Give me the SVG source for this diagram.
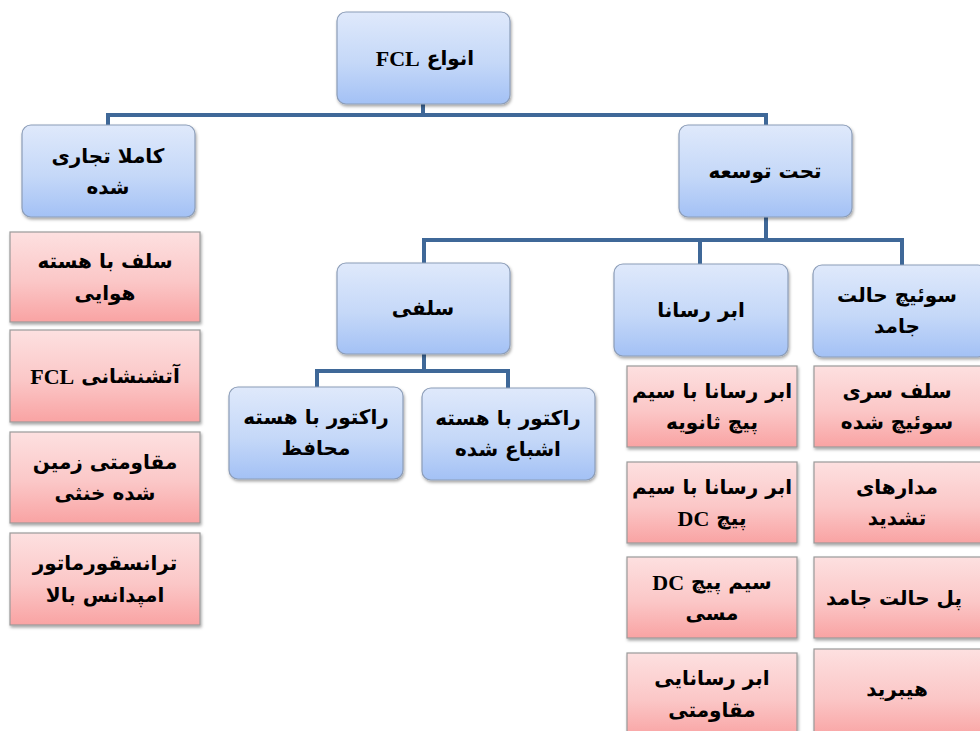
<svg xmlns="http://www.w3.org/2000/svg" width="980" height="731" viewBox="0 0 980 731">
<defs>
<linearGradient id="gb" x1="0" y1="0" x2="0" y2="1">
<stop offset="0" stop-color="#dfe9fb"/>
<stop offset="0.55" stop-color="#c5d8f8"/>
<stop offset="1" stop-color="#a3c1f5"/>
</linearGradient>
<linearGradient id="gr" x1="0" y1="0" x2="0" y2="1">
<stop offset="0" stop-color="#fde0e0"/>
<stop offset="0.55" stop-color="#fbc7c7"/>
<stop offset="1" stop-color="#f9a3a3"/>
</linearGradient>
<filter id="sh" x="-10%" y="-10%" width="125%" height="130%">
<feDropShadow dx="1" dy="2" stdDeviation="1.5" flood-color="#000" flood-opacity="0.35"/>
</filter>
</defs>
<style>
.b{fill:url(#gb);stroke:#8c9db8;stroke-width:1.2;filter:url(#sh)}
.r{fill:url(#gr);stroke:#9a9a9a;stroke-width:1.2;filter:url(#sh)}
.c{fill:none;stroke:#3f6898;stroke-width:4}
text{font-family:"Liberation Serif","DejaVu Sans",sans-serif;font-weight:bold;font-size:20px;fill:#000;text-anchor:middle;dominant-baseline:central;direction:rtl;unicode-bidi:embed;word-spacing:2px}
.lat{font-size:22px}
</style>
<rect width="980" height="731" fill="#fff"/>
<g id="connectors">
<path class="c" d="M423,104 V115 M108,125 V115 H766 V125"/>
<path class="c" d="M766,217 V240 M424,263 V240 H902 V265 M700,240 V264"/>
<path class="c" d="M424,354 V371 M317,388 V371 H508 V388"/>
</g>
<g id="root"><rect class="b" x="337" y="12" width="173" height="92" rx="9"/><text x="425" y="58">انواع  <tspan class="lat">FCL</tspan></text></g>
<g id="commercial"><rect class="b" x="22" y="125" width="173" height="92" rx="9"/><text x="108" y="156">کاملا تجاری</text><text x="108" y="187">شده</text></g>
<g id="developing"><rect class="b" x="679" y="125" width="173" height="92" rx="9"/><text x="765" y="171">تحت توسعه</text></g>
<g id="salfi"><rect class="b" x="337" y="263" width="173" height="91" rx="9"/><text x="423" y="308">سلفی</text></g>
<g id="abr"><rect class="b" x="614" y="264" width="174" height="92" rx="9"/><text x="701" y="310">ابر رسانا</text></g>
<g id="switch"><rect class="b" x="813" y="265" width="174" height="92" rx="9"/><text x="897" y="295">سوئیچ حالت</text><text x="897" y="326">جامد</text></g>
<g id="reactor1"><rect class="b" x="229" y="387" width="174" height="92" rx="9"/><text x="316" y="417">راکتور با هسته</text><text x="316" y="448">محافظ</text></g>
<g id="reactor2"><rect class="b" x="422" y="388" width="173" height="92" rx="9"/><text x="508" y="418">راکتور با هسته</text><text x="508" y="449">اشباع شده</text></g>
<g id="l1"><rect class="r" x="10" y="232" width="190" height="90"/><text x="105" y="261">سلف با هسته</text><text x="105" y="293">هوایی</text></g>
<g id="l2"><rect class="r" x="10" y="330" width="190" height="92"/><text x="105" y="376">آتشنشانی <tspan class="lat">FCL</tspan></text></g>
<g id="l3"><rect class="r" x="10" y="432" width="190" height="91"/><text x="105" y="462">مقاومتی زمین</text><text x="105" y="493">شده خنثی</text></g>
<g id="l4"><rect class="r" x="10" y="533" width="190" height="92"/><text x="105" y="563">ترانسقورماتور</text><text x="105" y="595">امپدانس بالا</text></g>
<g id="a1"><rect class="r" x="627" y="366" width="170" height="81"/><text x="712" y="391">ابر رسانا با سیم</text><text x="712" y="422">پیچ ثانویه</text></g>
<g id="a2"><rect class="r" x="627" y="462" width="170" height="81"/><text x="712" y="487">ابر رسانا با سیم</text><text x="712" y="518">پیچ <tspan class="lat">DC</tspan></text></g>
<g id="a3"><rect class="r" x="627" y="557" width="170" height="81"/><text x="712" y="582">سیم پیچ <tspan class="lat">DC</tspan></text><text x="712" y="613">مسی</text></g>
<g id="a4"><rect class="r" x="627" y="653" width="170" height="85"/><text x="712" y="678">ابر رسانایی</text><text x="712" y="710">مقاومتی</text></g>
<g id="s1"><rect class="r" x="814" y="366" width="172" height="81"/><text x="897" y="391">سلف سری</text><text x="897" y="422">سوئیچ شده</text></g>
<g id="s2"><rect class="r" x="814" y="462" width="172" height="81"/><text x="897" y="487">مدارهای</text><text x="897" y="518">تشدید</text></g>
<g id="s3"><rect class="r" x="814" y="557" width="172" height="81"/><text x="894" y="598">پل حالت جامد</text></g>
<g id="s4"><rect class="r" x="814" y="649" width="172" height="89"/><text x="897" y="689">هیبرید</text></g>
</svg>
